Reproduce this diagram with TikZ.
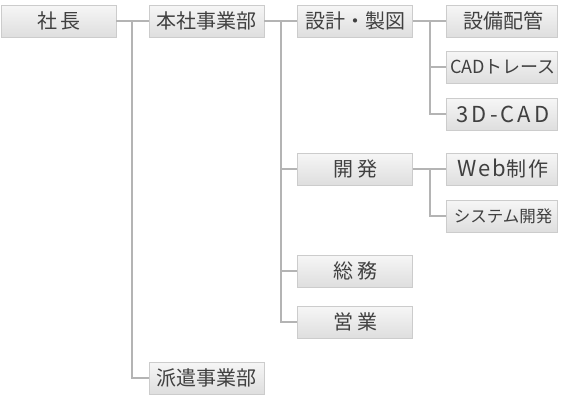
\documentclass[tikz,border=0pt]{standalone}
\usepackage{fontspec}
\setmainfont{Noto Sans CJK JP}
\newfontfamily\jpwide[LetterSpace=14]{Noto Sans CJK JP}
\newfontfamily\jpmid[LetterSpace=8]{Noto Sans CJK JP}
\definecolor{boxtop}{HTML}{F6F6F6}
\definecolor{boxbot}{HTML}{DEDEDE}
\definecolor{boxline}{HTML}{CCCCCC}
\definecolor{conn}{HTML}{B4B4B4}
\definecolor{txt}{HTML}{404040}
\tikzset{
  orgbox/.style={draw=boxline, line width=0.8pt, top color=boxtop, bottom color=boxbot,
    minimum height=32pt, inner sep=0pt, text=txt, font=\fontsize{20}{20}\selectfont},
  wbox/.style={orgbox, minimum width=115pt},
  nbox/.style={orgbox, minimum width=111pt},
  smallfont/.style={font=\fontsize{18}{18}\selectfont},
  conline/.style={draw=conn, line width=1.2pt}
}
\begin{document}
\begin{tikzpicture}[x=1pt,y=-1pt]
\useasboundingbox (0,0) rectangle (562,400);
% column 1
\node[wbox] (shacho) at (58.5,21) {社\kern3pt長};
% column 2
\node[wbox] (honsha) at (206.5,21) {本社事業部};
\node[wbox] (haken) at (206.5,378) {派遣事業部};
% column 3
\node[wbox] (sekkei) at (355,21) {設計・製図};
\node[wbox] (kaihatsu) at (355,169) {開\kern4pt発};
\node[wbox] (soumu) at (355,271) {総\kern4pt務};
\node[wbox] (eigyou) at (355,322) {営\kern4pt業};
% column 4
\node[nbox] (setsubi) at (501.5,21) {\kern4pt設備配管};
\node[nbox, smallfont] (cadtr) at (501.5,67) {\kern3pt CADトレース};
\node[nbox] (cad3d) at (501.5,114) {{\fontsize{22}{22}\jpwide 3D-CAD}\kern-3pt};
\node[nbox] (web) at (501.5,169) {\kern3pt{\fontsize{22}{22}\jpmid Web}\kern1pt 制\kern2pt 作};
\node[nbox, font=\fontsize{16.5}{16.5}\selectfont] (system) at (501.5,216) {\kern3pt システム開発};
% junctions
\coordinate (j1) at (132,21);
\coordinate (j2) at (281,21);
\coordinate (j3) at (430,21);
\coordinate (j4) at (430,169);
% connectors
\draw[conline] (shacho.east) -- (honsha.west);
\draw[conline] (j1) |- (haken.west);
\draw[conline] (honsha.east) -- (sekkei.west);
\draw[conline] (j2) |- (kaihatsu.west);
\draw[conline] (j2) |- (soumu.west);
\draw[conline] (j2) |- (eigyou.west);
\draw[conline] (sekkei.east) -- (setsubi.west);
\draw[conline] (j3) |- (cadtr.west);
\draw[conline] (j3) |- (cad3d.west);
\draw[conline] (kaihatsu.east) -- (web.west);
\draw[conline] (j4) |- (system.west);
\end{tikzpicture}
\end{document}
